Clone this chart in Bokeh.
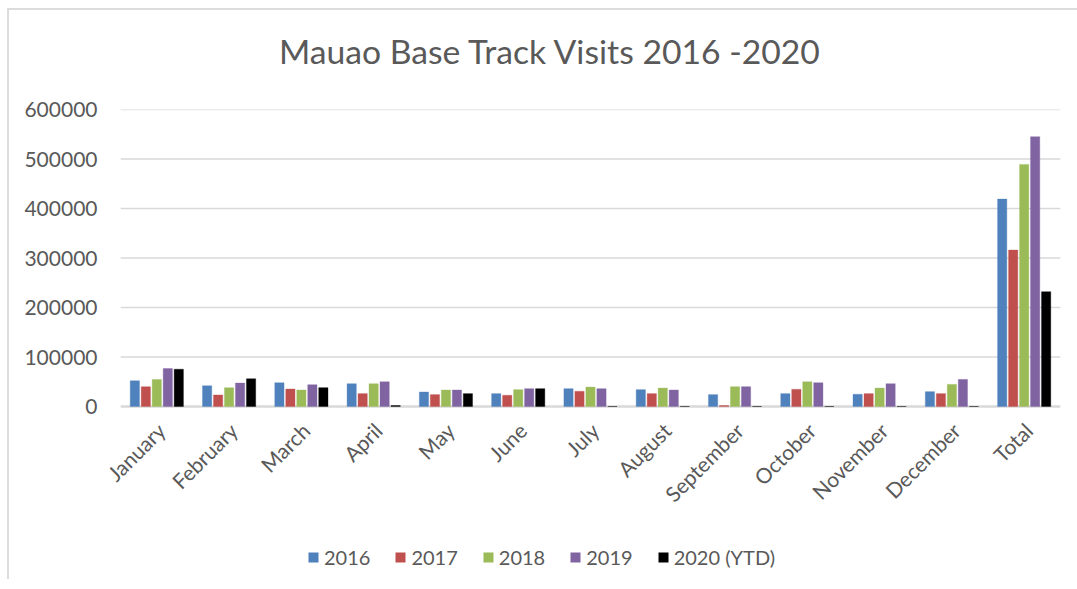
import numpy as np
from math import pi
from bokeh.plotting import figure
from bokeh.layouts import column
from bokeh.models import (ColumnDataSource, FactorRange, Legend, LegendItem, FixedTicker,
                          Div)
from bokeh.core.properties import value
from bokeh.transform import dodge
from bokeh.embed import file_html
from bokeh.resources import INLINE

months = ["January", "February", "March", "April", "May", "June", "July",
          "August", "September", "October", "November", "December", "Total"]
v2016 = [52000, 42000, 48000, 46000, 29300, 26000, 36000, 34000, 24000, 26000, 24700, 30000, 419000]
v2017 = [40000, 23300, 35300, 26000, 24000, 22700, 30700, 26000, 2000, 34700, 26000, 26000, 316000]
v2018 = [54700, 38000, 33300, 46000, 33300, 34000, 39300, 37300, 40000, 50000, 37300, 44700, 489000]
v2019 = [76700, 47300, 44000, 50000, 33300, 36000, 36000, 33300, 40000, 48000, 46000, 54700, 545000]
v2020 = [75300, 56000, 38000, 2000, 26000, 36000, 0, 0, 0, 0, 0, 0, 232000]
series_names = ["2016", "2017", "2018", "2019", "2020 (YTD)"]
colors = ["#4F81BD", "#C0504D", "#9BBB59", "#8064A2", "#000000"]
y_ticks = [0, 100000, 200000, 300000, 400000, 500000, 600000]
title_text = "Mauao Base Track Visits 2016 -2020"

FONT = "Lato"
TXT = "#595959"

# layout: value axis occupies 297 px for 0..600000; frame extends below for labels + legend
Y_MAX = 600000
AXIS_PX = 297
FRAME_PX = 470
units_per_px = Y_MAX / AXIS_PX
y_min = -(FRAME_PX - AXIS_PX) * units_per_px
label_y = -20 * units_per_px
X_PAD = 0.21  # side room (in category widths) so rotated labels are not cut

src = ColumnDataSource(dict(m=months, a=v2016, b=v2017, c=v2018, d=v2019, e=v2020,
                            ly=[label_y] * len(months)))
grid_src = ColumnDataSource(dict(y=y_ticks, x0=[0] * len(y_ticks),
                                 x1=[len(months)] * len(y_ticks),
                                 w=[2.5] + [1.5] * (len(y_ticks) - 1)))

title_div = Div(text=('<div style="padding-left:265px;padding-top:16px;white-space:nowrap;'
                      'font-family:Lato;font-size:33.7px;line-height:41px;color:#595959">'
                      + title_text + '</div>'),
                width=1060, height=60)

x_range = FactorRange(*months, range_padding=X_PAD, range_padding_units="absolute",
                      group_padding=0)
p = figure(x_range=x_range, y_range=(y_min, Y_MAX),
           frame_width=970, frame_height=FRAME_PX, output_backend="svg", toolbar_location=None,
           min_border_left=96, min_border_right=0, min_border_top=29, min_border_bottom=0)

# horizontal gridlines and baseline spanning only the categories
p.segment(x0="x0", x1="x1", y0="y", y1="y", source=grid_src,
          line_color="#d9d9d9", line_width="w")

renderers = []
offsets = [-0.304, -0.152, 0.0, 0.152, 0.304]
for key, off, col in zip(["a", "b", "c", "d", "e"], offsets, colors):
    r = p.vbar(x=dodge("m", off, range=p.x_range), top=key, width=0.128, source=src,
               fill_color=col, line_color=col, line_alpha=0.35, line_width=1)
    renderers.append(r)

# month labels, rotated 45 degrees, ending at the category centre
p.text(x=dodge("m", 0.06, range=p.x_range), y="ly", text="m", source=src, angle=pi / 4,
       text_align="right", text_baseline="middle", text_font=value(FONT),
       text_font_size="21px", text_color=TXT)

p.outline_line_color = None
p.xaxis.visible = False
p.xgrid.grid_line_color = None
p.ygrid.grid_line_color = None
p.yaxis.ticker = FixedTicker(ticks=y_ticks)
p.yaxis.axis_line_color = None
p.yaxis.major_tick_line_color = None
p.yaxis.minor_tick_line_color = None
p.yaxis.major_label_standoff = 2
p.yaxis.major_label_text_font = FONT
p.yaxis.major_label_text_font_size = "21px"
p.yaxis.major_label_text_color = TXT
p.yaxis.formatter.use_scientific = False

legend = Legend(items=[LegendItem(label=n, renderers=[r]) for n, r in zip(series_names, renderers)],
                orientation="horizontal", location=(202, 10),
                glyph_width=12, glyph_height=12, label_standoff=5, spacing=24,
                label_text_font=FONT, label_text_font_size="20px", label_text_color=TXT,
                border_line_color=None, background_fill_alpha=0, margin=0, padding=4)
p.add_layout(legend, "center")

layout = column(title_div, p)
layout.styles = {"border-top": "2px solid #dcdcdc", "border-left": "2px solid #dcdcdc",
                 "margin-left": "7px", "margin-top": "8px"}

open("out.html", "w").write(file_html(layout, INLINE))
